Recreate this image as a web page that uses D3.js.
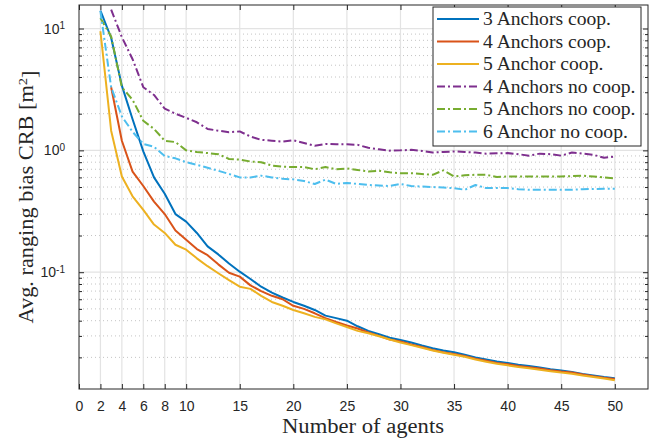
<!DOCTYPE html>
<html>
<head>
<meta charset="utf-8">
<script src="https://cdn.jsdelivr.net/npm/d3@7"></script>
<style>
  body { margin: 0; background: #fff; }
  svg { display: block; }
</style>
</head>
<body>
<script>
// number of agents (x) for each series
var agents2 = d3.range(2, 51);
var agents3 = d3.range(3, 51);

// y values
var anchors3Coop = [14, 8.4, 3.4, 1.8, 0.98, 0.6, 0.44, 0.3, 0.26, 0.21, 0.163, 0.14, 0.118, 0.101, 0.088, 0.076, 0.068, 0.062, 0.057,
  0.053, 0.049, 0.044, 0.042, 0.04, 0.036, 0.033, 0.031, 0.029, 0.0278, 0.0265, 0.025, 0.0238, 0.0228, 0.022, 0.021, 0.02, 0.0192,
  0.0185, 0.018, 0.0174, 0.017, 0.0165, 0.016, 0.0156, 0.0152, 0.0146, 0.0142, 0.0138, 0.0135];
var anchors4Coop = [3.3, 1.2, 0.67, 0.51, 0.38, 0.3, 0.22, 0.185, 0.155, 0.138, 0.116, 0.099, 0.092, 0.078, 0.07, 0.064, 0.06, 0.053,
  0.05, 0.046, 0.042, 0.039, 0.0365, 0.0345, 0.032, 0.03, 0.028, 0.027, 0.0255, 0.0243, 0.023, 0.022, 0.0213, 0.0205, 0.0195, 0.0188,
  0.018, 0.0176, 0.017, 0.0166, 0.0162, 0.0157, 0.0153, 0.015, 0.0145, 0.014, 0.0136, 0.0133];
var anchors5Coop = [9.5, 1.45, 0.61, 0.42, 0.325, 0.246, 0.21, 0.168, 0.153, 0.13, 0.112, 0.098, 0.086, 0.076, 0.073, 0.064, 0.057,
  0.053, 0.049, 0.046, 0.043, 0.041, 0.038, 0.0355, 0.033, 0.0315, 0.0298, 0.028, 0.0265, 0.0252, 0.024, 0.0228, 0.0218, 0.021,
  0.0202, 0.0192, 0.0184, 0.0177, 0.0172, 0.0167, 0.0163, 0.0158, 0.0154, 0.015, 0.0147, 0.0142, 0.0138, 0.0134, 0.013];
var anchors4NoCoop = [14.3, 8.5, 5.6, 3.3, 2.85, 2.2, 2.0, 1.85, 1.7, 1.5, 1.45, 1.41, 1.43, 1.3, 1.22, 1.2, 1.18, 1.21, 1.15, 1.09,
  1.13, 1.12, 1.12, 1.11, 1.05, 1.02, 0.995, 1.0, 1.01, 0.99, 0.96, 0.97, 0.98, 0.97, 0.96, 0.94, 0.945, 0.95, 0.93, 0.905, 0.94,
  0.93, 0.905, 0.96, 0.94, 0.92, 0.87, 0.89];
var anchors5NoCoop = [12.2, 8.6, 3.3, 2.6, 1.75, 1.5, 1.2, 1.17, 1.0, 0.97, 0.95, 0.93, 0.85, 0.84, 0.81, 0.8, 0.75, 0.735, 0.73, 0.73,
  0.7, 0.73, 0.7, 0.71, 0.69, 0.67, 0.68, 0.66, 0.65, 0.65, 0.64, 0.63, 0.685, 0.61, 0.625, 0.63, 0.63, 0.605, 0.61, 0.61, 0.61,
  0.61, 0.61, 0.61, 0.615, 0.62, 0.61, 0.6, 0.59];
var anchors6NoCoop = [13.9, 3.3, 1.9, 1.42, 1.13, 1.07, 0.9, 0.86, 0.8, 0.76, 0.72, 0.68, 0.64, 0.6, 0.6, 0.62, 0.6, 0.585, 0.578, 0.56,
  0.53, 0.575, 0.53, 0.54, 0.53, 0.52, 0.515, 0.51, 0.53, 0.51, 0.505, 0.5, 0.495, 0.49, 0.475, 0.52, 0.49, 0.49, 0.49, 0.48, 0.475,
  0.475, 0.475, 0.475, 0.475, 0.48, 0.482, 0.485, 0.485];

var seriesNames = ["3 Anchors coop.", "4 Anchors coop.", "5 Anchor coop.", "4 Anchors no coop.", "5 Anchors no coop.", "6 Anchor no coop."];
var seriesX = [agents2, agents3, agents2, agents3, agents2, agents2];
var seriesY = [anchors3Coop, anchors4Coop, anchors5Coop, anchors4NoCoop, anchors5NoCoop, anchors6NoCoop];
var seriesColors = ["#0072BD", "#D95319", "#EDB120", "#7E2F8E", "#77AC30", "#4DBEEE"];
var seriesDashed = [false, false, false, true, true, true];

var xTicks = [0, 2, 4, 6, 8, 10, 15, 20, 25, 30, 35, 40, 45, 50];
var yMajor = [0.1, 1, 10];
var yExp = ["-1", "0", "1"];

var W = 660, H = 439;
var margin = { left: 79, right: 648, top: 5, bottom: 389 };

var x = d3.scaleLinear().domain([0, 53.1]).range([margin.left, margin.right]);
var y = d3.scaleLog().domain([0.011, 15.6]).range([margin.bottom, margin.top]);

// minor ticks on the log axis
var yMinor = [];
[0.01, 0.1, 1].forEach(function (p) {
  for (var k = 2; k <= 9; k++) {
    var v = +(k * p).toPrecision(3);
    if (v >= 0.011 && v <= 15.6) yMinor.push(v);
  }
});

var svg = d3.select("body").append("svg").attr("width", W).attr("height", H);
svg.append("rect").attr("width", W).attr("height", H).attr("fill", "#fff");

svg.append("defs").append("clipPath").attr("id", "plotclip")
  .append("rect").attr("x", margin.left).attr("y", margin.top)
  .attr("width", margin.right - margin.left).attr("height", margin.bottom - margin.top);

// grid
var grid = svg.append("g");
grid.selectAll("line.ym").data(yMinor).enter().append("line")
  .attr("x1", margin.left).attr("x2", margin.right)
  .attr("y1", function (d) { return y(d); }).attr("y2", function (d) { return y(d); })
  .attr("stroke", "#c4c4c4").attr("stroke-width", 1).attr("stroke-dasharray", "1,3");
grid.selectAll("line.yM").data(yMajor).enter().append("line")
  .attr("x1", margin.left).attr("x2", margin.right)
  .attr("y1", function (d) { return y(d); }).attr("y2", function (d) { return y(d); })
  .attr("stroke", "#e3e3e3").attr("stroke-width", 1.2);
grid.selectAll("line.xM").data(xTicks.slice(1)).enter().append("line")
  .attr("y1", margin.top).attr("y2", margin.bottom)
  .attr("x1", function (d) { return x(d); }).attr("x2", function (d) { return x(d); })
  .attr("stroke", "#e3e3e3").attr("stroke-width", 1.2);

// curves
var line = d3.line()
  .x(function (d) { return x(d[0]); })
  .y(function (d) { return y(d[1]); });

var plot = svg.append("g").attr("clip-path", "url(#plotclip)");
seriesNames.forEach(function (name, i) {
  var pts = seriesX[i].map(function (a, j) { return [a, seriesY[i][j]]; });
  plot.append("path")
    .datum(pts)
    .attr("d", line)
    .attr("fill", "none")
    .attr("stroke", seriesColors[i])
    .attr("stroke-width", 2)
    .attr("stroke-linejoin", "round")
    .attr("stroke-dasharray", seriesDashed[i] ? "8,3,2,3" : null);
});

// axes, MATLAB style: ticks pointing inward, box all round
var axisColor = "#262626";
var xAxis = d3.axisBottom(x).tickValues(xTicks).tickSize(-5).tickPadding(12).tickSizeOuter(0);
var gx = svg.append("g").attr("transform", "translate(0," + margin.bottom + ")").call(xAxis);
var gxTop = svg.append("g").attr("transform", "translate(0," + margin.top + ")")
  .call(d3.axisTop(x).tickValues(xTicks).tickSize(-5).tickSizeOuter(0).tickFormat(""));

var yAxis = d3.axisLeft(y).tickValues(yMajor).tickSize(-5).tickPadding(14).tickSizeOuter(0);
var gy = svg.append("g").attr("transform", "translate(" + margin.left + ",0)").call(yAxis);
var gyMinor = svg.append("g").attr("transform", "translate(" + margin.left + ",0)")
  .call(d3.axisLeft(y).tickValues(yMinor).tickSize(-3).tickSizeOuter(0).tickFormat(""));
var gyR = svg.append("g").attr("transform", "translate(" + margin.right + ",0)")
  .call(d3.axisRight(y).tickValues(yMajor).tickSize(-5).tickSizeOuter(0).tickFormat(""));
var gyRMinor = svg.append("g").attr("transform", "translate(" + margin.right + ",0)")
  .call(d3.axisRight(y).tickValues(yMinor).tickSize(-3).tickSizeOuter(0).tickFormat(""));

[gx, gxTop, gy, gyMinor, gyR, gyRMinor].forEach(function (g) {
  g.select(".domain").remove();
  g.selectAll(".tick line").attr("stroke", axisColor);
  g.selectAll("text").attr("fill", axisColor)
    .attr("font-family", "'Liberation Sans', Arial, sans-serif").attr("font-size", 14);
});

// 10^k labels
gy.selectAll(".tick text").each(function (d, i) {
  var t = d3.select(this).text("").attr("dy", "0.32em");
  t.append("tspan").text("10");
  t.append("tspan").attr("dy", "-0.45em").attr("font-size", 10).text(yExp[i]);
});

svg.append("rect")
  .attr("x", margin.left).attr("y", margin.top)
  .attr("width", margin.right - margin.left).attr("height", margin.bottom - margin.top)
  .attr("fill", "none").attr("stroke", axisColor).attr("stroke-width", 1);

// axis titles
var serif = "'Liberation Serif', 'Times New Roman', serif";
svg.append("text")
  .attr("x", 363).attr("y", 433)
  .attr("text-anchor", "middle")
  .attr("font-family", serif).attr("font-size", 20).attr("fill", axisColor)
  .attr("textLength", 162).attr("lengthAdjust", "spacingAndGlyphs")
  .text("Number of agents");

var yl = svg.append("text")
  .attr("transform", "translate(33," + (margin.top + margin.bottom) / 2 + ") rotate(-90)")
  .attr("text-anchor", "middle")
  .attr("font-family", serif).attr("font-size", 20).attr("fill", axisColor)
  .attr("textLength", 253).attr("lengthAdjust", "spacingAndGlyphs");
yl.append("tspan").text("Avg. ranging bias CRB [m");
yl.append("tspan").attr("dy", "-0.45em").attr("font-size", 13).text("2");
yl.append("tspan").attr("dy", "0.45em").text("]");

// legend
var legend = svg.append("g");
legend.append("rect")
  .attr("x", 433).attr("y", 7).attr("width", 208).attr("height", 139)
  .attr("fill", "#fff").attr("stroke", axisColor).attr("stroke-width", 1);

seriesNames.forEach(function (name, i) {
  var ry = 19 + i * 22.5;
  legend.append("line")
    .attr("x1", 437).attr("x2", 479).attr("y1", ry).attr("y2", ry)
    .attr("stroke", seriesColors[i]).attr("stroke-width", 2)
    .attr("stroke-dasharray", seriesDashed[i] ? "8,3,2,3" : null);
  var t = legend.append("text")
    .attr("x", 483).attr("y", ry + 6)
    .attr("font-family", serif).attr("font-size", 18.5).attr("fill", axisColor)
    .text(name);
  var w = t.node().getComputedTextLength();
  t.attr("textLength", w * 1.06).attr("lengthAdjust", "spacingAndGlyphs");
});
</script>
</body>
</html>
